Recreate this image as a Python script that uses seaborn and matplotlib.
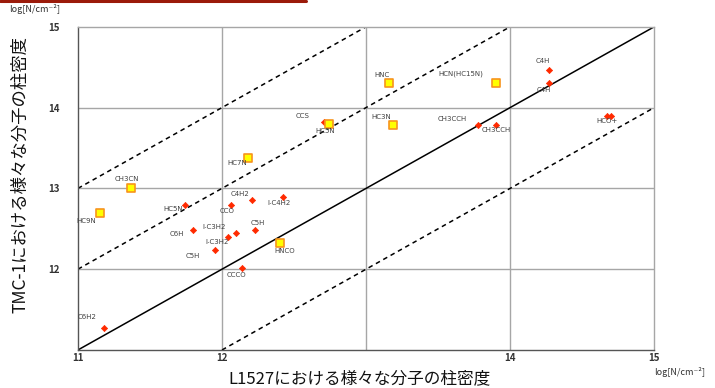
import numpy as np
import pandas as pd
import matplotlib
matplotlib.use('Agg')
import matplotlib.pyplot as plt
import seaborn as sns

# red diamonds: molecules detected in both sources
red_names = ['C4H', 'C4H', 'HCO+', 'HCO+', 'CH3CCH', 'CH3CCH', 'CCS', 'HC5N',
             'CCO', 'C4H2', 'l-C4H2', 'C6H', 'l-C3H2', 'C5H', 'l-C3H2', 'C5H',
             'CCCO', 'C6H2']
red_x = [14.27, 14.27, 14.67, 14.70, 13.78, 13.90, 12.71, 11.74,
         12.06, 12.21, 12.42, 11.80, 12.10, 12.23, 12.04, 11.95,
         12.14, 11.18]
red_y = [14.47, 14.30, 13.90, 13.90, 13.79, 13.79, 13.82, 12.79,
         12.79, 12.86, 12.89, 12.48, 12.45, 12.48, 12.40, 12.24,
         12.01, 11.27]
# label offsets in pixels (dx right, dy down)
red_dx = [-6, -5, 0, 0, -26, 1, -22, -11, -4, -12, -4, -16, -22, 3, -11, -22, -6, -17]
red_dy = [-9, 7, 5, 0, -6, 5, -6, 4, 6, -6, 6, 4, -6, -7, 5, 6, 7, -11]
red_show = [True, True, True, False, True, True, True, True, True, True,
            True, True, True, True, True, True, True, True]

# yellow squares: cyanopolyynes and N-bearing species
sq_names = ['HC5N', 'HNC', 'HCN(HC15N)', 'HC3N', 'HC7N', 'CH3CN', 'HC9N', 'HNCO']
sq_x = [12.74, 13.16, 13.90, 13.19, 12.18, 11.37, 11.15, 12.40]
sq_y = [13.80, 14.30, 14.30, 13.79, 13.37, 13.01, 12.69, 12.32]
sq_dx = [-3, -7, -35, -12, -11, -4, -13, 5]
sq_dy = [7, -8, -10, -8, 5, -9, 8, 8]

x_ticks = [11, 12, 14, 15]
y_ticks = [12, 13, 14, 15]
ref_offsets = [0, 1, 2, -1]

sns.set_style('white')
plt.rcParams['font.family'] = ['Noto Sans CJK JP', 'DejaVu Sans']

fig = plt.figure(figsize=(7.15, 3.88), dpi=100)
ax = fig.add_axes([0.109, 0.098, 0.806, 0.833])

red_df = pd.DataFrame({'x': red_x, 'y': red_y})
sq_df = pd.DataFrame({'x': sq_x, 'y': sq_y})

for xv in range(12, 15):
    ax.axvline(xv, color='#a6a6a6', lw=1.0, zorder=0)
for yv in range(12, 15):
    ax.axhline(yv, color='#a6a6a6', lw=1.0, zorder=0)

for off in ref_offsets:
    x0 = max(11, 11 - off)
    x1 = min(15, 15 - off)
    xs = np.array([x0, x1])
    ax.plot(xs, xs + off, color='black', lw=1.1,
            ls='-' if off == 0 else (0, (3, 2.5)), zorder=1)

sns.scatterplot(data=red_df, x='x', y='y', ax=ax, marker='D', s=10,
                color='#ff2a00', edgecolor='#ff2a00', linewidth=0.5, zorder=3)
sns.scatterplot(data=sq_df, x='x', y='y', ax=ax, marker='s', s=34,
                color='#ffff00', edgecolor='#f7941d', linewidth=1.2, zorder=3)

lbl_kw = dict(textcoords='offset points', fontsize=5, color='#404040',
              ha='center', va='center', family=['DejaVu Sans'])
for n, x, y, dx, dy, show in zip(red_names, red_x, red_y, red_dx, red_dy, red_show):
    if show:
        ax.annotate(n, (x, y), xytext=(dx * 0.72, -dy * 0.72), **lbl_kw)
for n, x, y, dx, dy in zip(sq_names, sq_x, sq_y, sq_dx, sq_dy):
    ax.annotate(n, (x, y), xytext=(dx * 0.72, -dy * 0.72), **lbl_kw)

ax.set_xlim(11, 15)
ax.set_ylim(11, 15)
ax.set_xticks(x_ticks)
ax.set_yticks(y_ticks)
ax.set_xticklabels([str(t) for t in x_ticks], fontsize=7, fontweight='bold', color='#333333')
ax.set_yticklabels([str(t) for t in y_ticks], fontsize=7, fontweight='bold', color='#333333')
ax.tick_params(axis='x', length=0, pad=2)
ax.tick_params(axis='y', length=3, pad=10, color='#555555')
for sp in ax.spines.values():
    sp.set_color('#a6a6a6')
    sp.set_linewidth(1.0)
ax.spines['bottom'].set_color('#555555')
ax.spines['left'].set_color('#555555')
ax.set_xlabel('')
ax.set_ylabel('')

fig.text(0.503, 0.025, 'L1527における様々な分子の柱密度', fontsize=12,
         ha='center', va='center', color='#111111')
fig.text(0.028, 0.55, 'TMC-1における様々な分子の柱密度', fontsize=12.5,
         ha='center', va='center', rotation=90, color='#111111')
fig.text(0.049, 0.977, 'log[N/cm⁻²]', fontsize=6.5, ha='center', va='center', color='#333333')
fig.text(0.951, 0.042, 'log[N/cm⁻²]', fontsize=6.5, ha='center', va='center', color='#333333')

# dark red header bar at the top-left
fig.add_artist(plt.Line2D([0, 306 / 715], [0.997, 0.997], color='#9b1a0a', lw=2.2,
                          transform=fig.transFigure))

fig.savefig('out.png', dpi=100)
